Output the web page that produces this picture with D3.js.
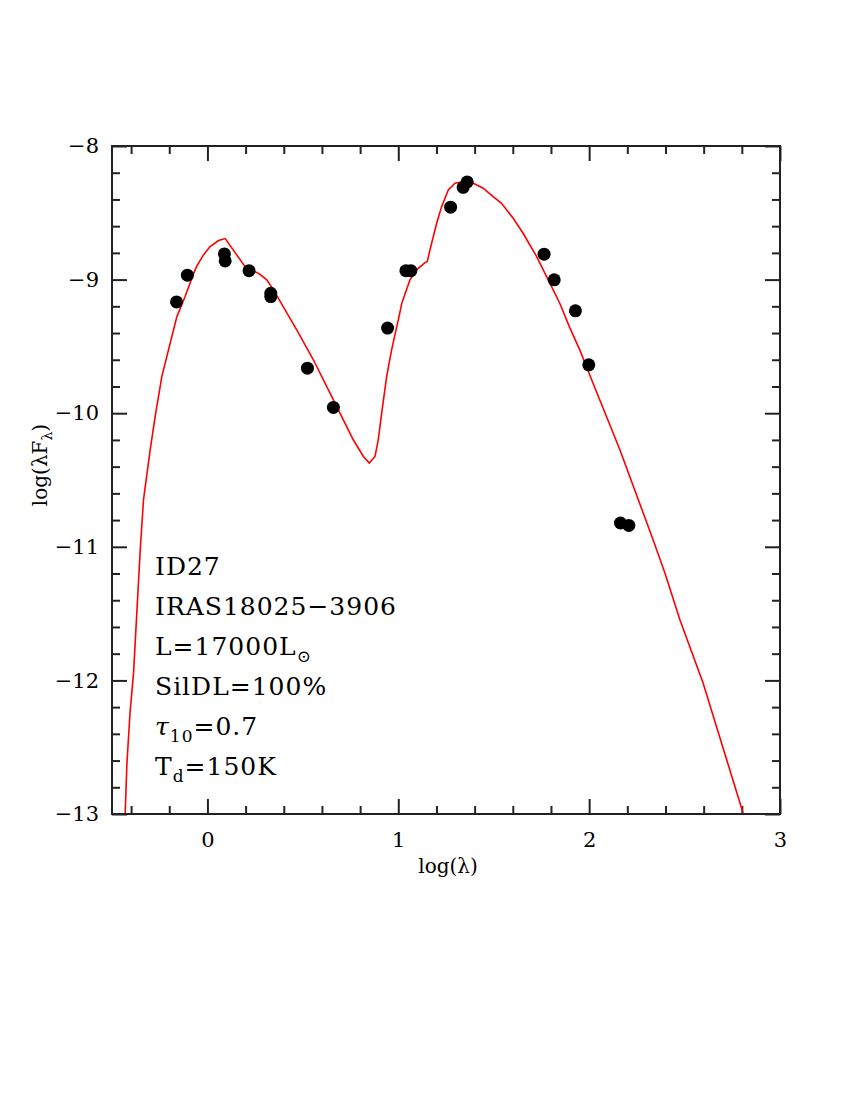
<!DOCTYPE html>
<html>
<head>
<meta charset="utf-8">
<script src="https://d3js.org/d3.v7.min.js"></script>
<style>
  body { margin: 0; background: #fff; }
  svg { display: block; }
  .tick text { font-family: "DejaVu Serif", serif; }
</style>
</head>
<body>
<svg id="sed" width="850" height="1100"></svg>
<script>
// model SED (log lambda, log lambda F_lambda)
var modelX = [-0.431, -0.422, -0.405, -0.387, -0.352, -0.335, -0.300, -0.274, -0.239, -0.204,
  -0.160, -0.117, -0.065, -0.052, -0.021, 0.014, 0.058, 0.093, 0.197, 0.215,
  0.232, 0.272, 0.311, 0.346, 0.468, 0.555, 0.660, 0.764, 0.817, 0.848,
  0.878, 0.895, 0.913, 0.939, 0.965, 1.000, 1.019, 1.061, 1.096, 1.140,
  1.152, 1.166, 1.201, 1.227, 1.262, 1.297, 1.350, 1.393, 1.445, 1.497,
  1.541, 1.602, 1.654, 1.725, 1.794, 1.846, 1.899, 1.951, 2.013, 2.161,
  2.335, 2.397, 2.475, 2.597, 2.806];
var modelY = [-13.0, -12.626, -12.233, -11.942, -11.022, -10.648, -10.274, -10.025, -9.726, -9.526,
  -9.277, -9.127, -8.927, -8.890, -8.815, -8.753, -8.708, -8.693, -8.903, -8.940,
  -8.927, -8.957, -9.002, -9.077, -9.376, -9.600, -9.900, -10.199, -10.324, -10.373,
  -10.324, -10.199, -9.999, -9.726, -9.526, -9.301, -9.174, -9.002, -8.927, -8.873,
  -8.865, -8.778, -8.578, -8.454, -8.329, -8.279, -8.267, -8.279, -8.316, -8.379,
  -8.429, -8.541, -8.653, -8.828, -9.027, -9.177, -9.361, -9.526, -9.750, -10.274,
  -10.947, -11.196, -11.545, -12.019, -12.991];

// photometry
var obsX = [-0.162, -0.105, 0.089, 0.093, 0.218, 0.332, 0.332, 0.524, 0.660, 0.944,
  1.040, 1.066, 1.274, 1.340, 1.361, 1.764, 1.817, 1.928, 1.998, 2.164, 2.208];
var obsY = [-9.167, -8.967, -8.808, -8.860, -8.933, -9.102, -9.127, -9.663, -9.957, -9.363,
  -8.933, -8.933, -8.458, -8.309, -8.269, -8.810, -9.002, -9.234, -9.638, -10.822, -10.840];

var xTicks = [0, 1, 2, 3],
    xTickLabels = ["0", "1", "2", "3"];
var yTicks = [-13, -12, -11, -10, -9, -8],
    yTickLabels = ["\u221213", "\u221212", "\u221211", "\u221210", "\u22129", "\u22128"];

var notes = [
  [{t: "ID27"}],
  [{t: "IRAS18025\u22123906"}],
  [{t: "L=17000L"}, {t: "\u2299", sub: true}],
  [{t: "SilDL=100%"}],
  [{t: "\u03c4", it: true}, {t: "10", sub: true}, {t: "=0.7"}],
  [{t: "T"}, {t: "d", sub: true}, {t: "=150K"}]
];

var svg = d3.select("#sed"),
    marginLeft = 112, marginTop = 146, width = 668, height = 668;

svg.append("rect").attr("width", 850).attr("height", 1100).attr("fill", "#fff");

var x = d3.scaleLinear().domain([-0.5, 3]).range([0, width]),
    y = d3.scaleLinear().domain([-13, -8]).range([height, 0]);

var g = svg.append("g").attr("transform", "translate(" + marginLeft + "," + marginTop + ")");

var minorX = d3.range(-0.4, 3, 0.2).filter(function (v) { return Math.abs(v - Math.round(v)) > 0.01; }),
    minorY = d3.range(-12.8, -8, 0.2).filter(function (v) { return Math.abs(v - Math.round(v)) > 0.01; });

function styleAxis(sel) {
  sel.select(".domain").remove();
  sel.selectAll("line").attr("stroke", "#222").attr("stroke-width", 2);
}

// bottom
g.append("g").attr("transform", "translate(0," + height + ")")
  .call(d3.axisBottom(x).tickValues(xTicks).tickSize(-15).tickPadding(18)
    .tickFormat(function (d, i) { return xTickLabels[i]; }))
  .call(styleAxis)
  .selectAll("text").attr("font-size", 21).attr("fill", "#000");
g.append("g").attr("transform", "translate(0," + height + ")")
  .call(d3.axisBottom(x).tickValues(minorX).tickSize(-8).tickFormat(""))
  .call(styleAxis);
// top
g.append("g")
  .call(d3.axisTop(x).tickValues(xTicks).tickSize(-15).tickFormat(""))
  .call(styleAxis);
g.append("g")
  .call(d3.axisTop(x).tickValues(minorX).tickSize(-8).tickFormat(""))
  .call(styleAxis);
// left
g.append("g")
  .call(d3.axisLeft(y).tickValues(yTicks).tickSize(-15).tickPadding(13)
    .tickFormat(function (d, i) { return yTickLabels[i]; }))
  .call(styleAxis)
  .selectAll("text").attr("font-size", 21).attr("fill", "#000");
g.append("g")
  .call(d3.axisLeft(y).tickValues(minorY).tickSize(-8).tickFormat(""))
  .call(styleAxis);
// right
g.append("g").attr("transform", "translate(" + width + ",0)")
  .call(d3.axisRight(y).tickValues(yTicks).tickSize(-15).tickFormat(""))
  .call(styleAxis);
g.append("g").attr("transform", "translate(" + width + ",0)")
  .call(d3.axisRight(y).tickValues(minorY).tickSize(-8).tickFormat(""))
  .call(styleAxis);

// model curve
var line = d3.line()
  .x(function (d) { return x(d[0]); })
  .y(function (d) { return y(d[1]); });

g.append("path")
  .datum(d3.zip(modelX, modelY))
  .attr("d", line)
  .attr("fill", "none")
  .attr("stroke", "#ff0000")
  .attr("stroke-width", 1.6);

// observed points
g.selectAll(".dot")
  .data(d3.zip(obsX, obsY))
  .enter()
  .append("circle")
  .attr("class", "dot")
  .attr("cx", function (d) { return x(d[0]); })
  .attr("cy", function (d) { return y(d[1]); })
  .attr("r", 6.5)
  .attr("fill", "#000");

// frame
g.append("rect")
  .attr("width", width).attr("height", height)
  .attr("fill", "none").attr("stroke", "#222").attr("stroke-width", 2);

// axis labels
svg.append("text")
  .attr("x", marginLeft + width / 2 + 2).attr("y", 873)
  .attr("text-anchor", "middle")
  .attr("font-family", "DejaVu Serif").attr("font-size", 20)
  .text("log(\u03bb)");

var yl = svg.append("text")
  .attr("transform", "translate(47,465) rotate(-90)")
  .attr("text-anchor", "middle")
  .attr("font-family", "DejaVu Serif").attr("font-size", 20);
yl.append("tspan").text("log(\u03bbF");
yl.append("tspan").attr("font-size", 14).attr("dy", 5).text("\u03bb");
yl.append("tspan").attr("dy", -5).text(")");

// annotation block
notes.forEach(function (parts, i) {
  var t = svg.append("text")
    .attr("x", 155).attr("y", 575 + i * 40)
    .attr("font-family", "DejaVu Serif").attr("font-size", 25)
    .attr("letter-spacing", 1);
  var shifted = false;
  parts.forEach(function (p) {
    var s = t.append("tspan").text(p.t);
    if (p.it) s.attr("font-style", "italic");
    if (p.sub) { s.attr("font-size", 17).attr("dy", 7); shifted = true; }
    else if (shifted) { s.attr("dy", -7); shifted = false; }
  });
});
</script>
</body>
</html>
